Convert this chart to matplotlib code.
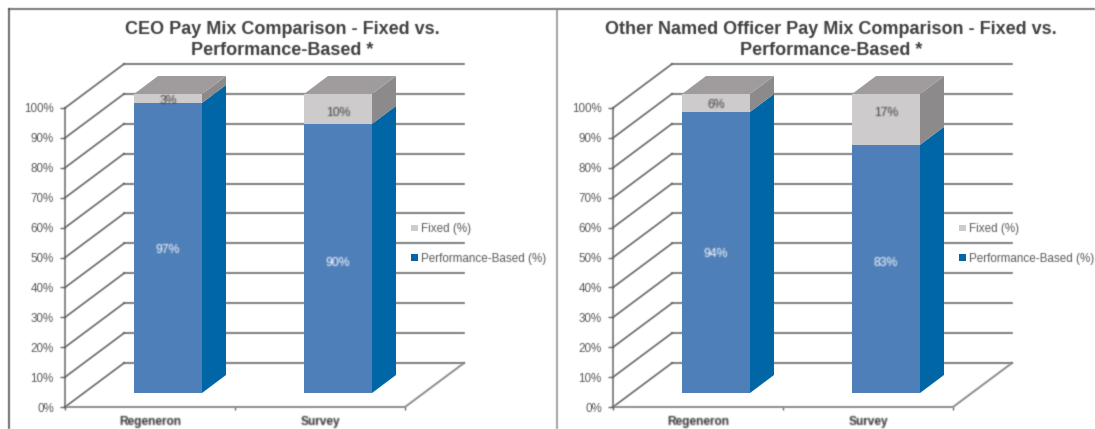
#!/bin/python3

import numpy as np
import matplotlib
matplotlib.use('Agg')
import matplotlib.pyplot as plt
from matplotlib.lines import Line2D
from matplotlib.patches import Polygon, Patch
from matplotlib.text import Text

plt.rcParams['font.family'] = ['Liberation Sans', 'DejaVu Sans']

# data
categories = ['Regeneron', 'Survey']
ceo_perf = [97, 90]
ceo_fixed = [3, 10]
officer_perf = [94, 83]
officer_fixed = [6, 17]
ticks = [0, 10, 20, 30, 40, 50, 60, 70, 80, 90, 100]
legend_names = ['Fixed (%)', 'Performance-Based (%)']
ceo_title = 'CEO Pay Mix Comparison - Fixed vs.\nPerformance-Based *'
officer_title = 'Other Named Officer Pay Mix Comparison - Fixed vs.\nPerformance-Based *'

W, H = 1095, 429
GRID = '#666666'
TXT = '#5a5a5a'
BLUE, BLUE_SIDE = '#4f7fb8', '#0066a6'
GREY, GREY_SIDE, GREY_TOP = '#cdcbcc', '#8c8a8b', '#a09c9e'

# depth in data units (1 category = 170px, 100% = 299px)
WALL_X, WALL_Y = 59 / 170, 44 / 2.99
BAR_X, BAR_Y = 18 / 170, 14 / 2.99
SIDE_X, SIDE_Y = 24 / 170, 18 / 2.99
BAR_W = 68 / 170

# the source is a soft scan, so lines and text get a small blur
KERNEL = np.array([0.16, 0.68, 0.16])


def soften(img, dpi):
    pad = 3
    img = np.pad(img, ((pad, pad), (pad, pad), (0, 0)))
    rgb = img[:, :, :3] * img[:, :, 3:]
    out = np.dstack([rgb, img[:, :, 3]])
    for ch in range(4):
        out[:, :, ch] = np.apply_along_axis(np.convolve, 0, out[:, :, ch], KERNEL, mode='same')
        out[:, :, ch] = np.apply_along_axis(np.convolve, 1, out[:, :, ch], KERNEL, mode='same')
    a = np.clip(out[:, :, 3:], 1e-4, 1)
    out[:, :, :3] = np.clip(out[:, :, :3] / a, 0, 1)
    return out, -pad, -pad


def side(ax, x, y0, y1, color):
    ax.add_patch(Polygon([(x, y0), (x + SIDE_X, y0 + SIDE_Y), (x + SIDE_X, y1 + SIDE_Y), (x, y1)],
                         fc=color, ec='none', zorder=3, clip_on=False))


def panel(left, perf, fixed, label_shift):
    ax = fig.add_axes([left / W, 1 - 407 / H, 340 / W, 299 / H])
    ax.set_xlim(-0.5, 1.5)
    ax.set_ylim(0, 100)
    ax.patch.set_visible(False)
    for s in ax.spines.values():
        s.set_visible(False)

    # walls
    for t in ticks:
        ax.plot([-0.5, -0.5 + WALL_X], [t, t + WALL_Y], color=GRID, lw=1.2, zorder=1, clip_on=False)
        ax.plot([-0.5 + WALL_X, 1.5 + WALL_X], [t + WALL_Y, t + WALL_Y], color=GRID, lw=1.2, zorder=1, clip_on=False)
    ax.plot([-0.5, 1.5, 1.5 + WALL_X], [0, 0, WALL_Y], color='#8c8c8c', lw=1.4, zorder=1, clip_on=False)
    ax.plot([-0.5, -0.5], [0, 100], color=GRID, lw=1.1, zorder=1, clip_on=False)

    # bars
    xs = [i + BAR_X for i in range(len(perf))]
    ax.bar(xs, perf, BAR_W, bottom=BAR_Y, color=BLUE, zorder=4, clip_on=False)
    ax.bar(xs, fixed, BAR_W, bottom=[p + BAR_Y for p in perf], color=GREY, zorder=4, clip_on=False)
    for x, p, f in zip(xs, perf, fixed):
        r = x + BAR_W / 2
        l = x - BAR_W / 2
        side(ax, r, BAR_Y, BAR_Y + p, BLUE_SIDE)
        side(ax, r, BAR_Y + p, BAR_Y + p + f, GREY_SIDE)
        top = BAR_Y + p + f
        ax.add_patch(Polygon([(l, top), (r, top), (r + SIDE_X, top + SIDE_Y), (l + SIDE_X, top + SIDE_Y)],
                             fc=GREY_TOP, ec='none', zorder=3, clip_on=False))

    # data labels
    for x, p, f, sh in zip(xs, perf, fixed, label_shift):
        ax.annotate('%d%%' % p, (x, BAR_Y + p / 2), xytext=(0, sh[0]), textcoords='offset pixels',
                    ha='center', va='center', color='#ffffff', fontsize=8.8, zorder=5, annotation_clip=False)
        ax.annotate('%d%%' % f, (x, BAR_Y + p + f / 2), xytext=(0, sh[1]), textcoords='offset pixels',
                    ha='center', va='center', color='#404040', fontsize=8.8, zorder=5, annotation_clip=False)

    ax.set_xticks([-0.5, 0.5, 1.5], ['', '', ''])
    ax.set_yticks(ticks, ['%d%%' % t for t in ticks])
    ax.tick_params(axis='y', length=3.5, width=1, color=GRID, labelcolor=TXT, labelsize=8.4, pad=4.5)
    ax.tick_params(axis='x', length=2.5, width=1, color=GRID)
    for i, c in enumerate(categories):
        ax.annotate(c, (i, 0), xytext=(0, -15), textcoords='offset pixels', ha='center', va='center',
                    fontsize=8.6, fontweight='bold', color='#303030', annotation_clip=False)

    handles = [Patch(fc=GREY), Patch(fc=BLUE_SIDE)]
    ax.legend(handles, legend_names, loc='center left', bbox_to_anchor=(1.018, 0.545), frameon=False,
              fontsize=8.4, labelcolor=TXT, handlelength=0.55, handleheight=0.5, handletextpad=0.3,
              labelspacing=1.5, borderpad=0, borderaxespad=0)
    return ax


fig = plt.figure(figsize=(W / 100, H / 100), dpi=100)

panel(65, ceo_perf, ceo_fixed, [(-2, -3), (-5, -4)])
panel(613, officer_perf, officer_fixed, [(-2, -2), (6, 6)])

fig.text(282 / W, 1 - 40 / H, ceo_title, ha='center', va='center', fontsize=13, fontweight='bold',
         color='#404040', linespacing=1.32)
fig.text(831 / W, 1 - 40 / H, officer_title, ha='center', va='center', fontsize=13, fontweight='bold',
         color='#404040', linespacing=1.32)

# frame round the two panels
for xx, yy, col in [((9, 1095), (9, 9), '#606060'), ((9, 9), (9, 429), '#505050'), ((557, 557), (9, 429), '#909090')]:
    fig.add_artist(Line2D([x / W for x in xx], [1 - y / H for y in yy], color=col, lw=1.2))

for a in fig.findobj(lambda o: isinstance(o, (Text, Line2D))):
    a.set_agg_filter(soften)

fig.savefig('out.png', dpi=100)
